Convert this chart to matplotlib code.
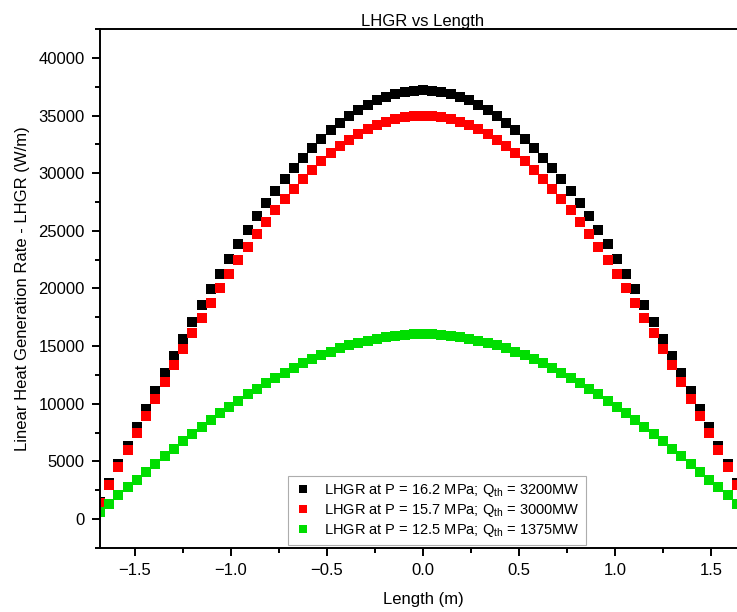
import matplotlib
matplotlib.use("Agg")
import matplotlib.pyplot as plt
import numpy as np
from matplotlib.ticker import MultipleLocator

plt.rcParams['font.family'] = ['Liberation Sans', 'DejaVu Sans']
plt.rcParams['mathtext.fontset'] = 'custom'
plt.rcParams['mathtext.rm'] = 'Liberation Sans'
plt.rcParams['mathtext.it'] = 'Liberation Sans:italic'

# axial positions, regular 0.048 m grid
length_m = np.round(np.arange(-35, 36) * 0.048, 3)

half_162 = [37200, 37165, 37058, 36881, 36633, 36315, 35928, 35472, 34949, 34359,
            33703, 32983, 32199, 31354, 30450, 29487, 28468, 27394, 26268, 25093,
            23869, 22599, 21286, 19938, 18544, 17115, 15655, 14165, 12649, 11108,
            9547, 7966, 6371, 4763, 3147, 1524]
half_157 = [35000, 34967, 34866, 34700, 34467, 34168, 33803, 33375, 32882, 32327,
            31710, 31032, 30295, 29500, 28649, 27743, 26784, 25774, 24715, 23608,
            22457, 21263, 20028, 18759, 17448, 16103, 14729, 13328, 11901, 10451,
            8982, 7495, 5994, 4482, 2961, 1434]
half_125 = [16030, 16015, 15969, 15893, 15786, 15649, 15482, 15286, 15060, 14806,
            14523, 14213, 13875, 13511, 13121, 12706, 12267, 11805, 11320, 10812,
            10285, 9739, 9173, 8592, 7991, 7375, 6746, 6104, 5451, 4787,
            4114, 3433, 2745, 2053, 1356, 657]

lhgr_162 = half_162[::-1] + half_162[1:]
lhgr_157 = half_157[::-1] + half_157[1:]
lhgr_125 = half_125[::-1] + half_125[1:]

labels = ["LHGR at P = 16.2 MPa; Q$_{\\mathrm{th}}$ = 3200MW",
          "LHGR at P = 15.7 MPa; Q$_{\\mathrm{th}}$ = 3000MW",
          "LHGR at P = 12.5 MPa; Q$_{\\mathrm{th}}$ = 1375MW"]
colors = ["#000000", "#ff0000", "#00dd00"]

fig = plt.figure(figsize=(7.37, 6.12), dpi=100)
ax = fig.add_axes([0.1357, 0.1046, 0.8765, 0.848])

for y, c, lab in zip([lhgr_162, lhgr_157, lhgr_125], colors, labels):
    ax.plot(length_m, y, linestyle='none', marker='s', markersize=7.2,
            markeredgewidth=0, color=c, label=lab)

ax.set_xlim(-1.68, 1.68)
ax.set_ylim(-2500, 42500)
ax.xaxis.set_major_locator(MultipleLocator(0.5))
ax.xaxis.set_minor_locator(MultipleLocator(0.25))
ax.yaxis.set_major_locator(MultipleLocator(5000))
ax.yaxis.set_minor_locator(MultipleLocator(2500))

for s in ax.spines.values():
    s.set_linewidth(1.4)
ax.spines['right'].set_visible(False)
ax.tick_params(which='major', direction='out', length=6, width=1.4, labelsize=12, pad=5)
ax.tick_params(which='minor', direction='out', length=3.5, width=1.4)
ax.tick_params(top=False, right=False)

ax.set_title("LHGR vs Length", fontsize=12, pad=2)
ax.set_xlabel("Length (m)", fontsize=12, labelpad=10)
ax.set_ylabel("Linear Heat Generation Rate - LHGR (W/m)", fontsize=12, labelpad=6)

leg = ax.legend(loc='lower left', bbox_to_anchor=(0.291, 0.006), borderaxespad=0,
                fontsize=10.5, frameon=True, fancybox=False, labelspacing=0.2,
                handlelength=1.2, handletextpad=0.9, borderpad=0.4, markerscale=0.8)
leg.get_frame().set_edgecolor('#999999')
leg.get_frame().set_linewidth(0.8)

fig.savefig("out.png", dpi=100)
